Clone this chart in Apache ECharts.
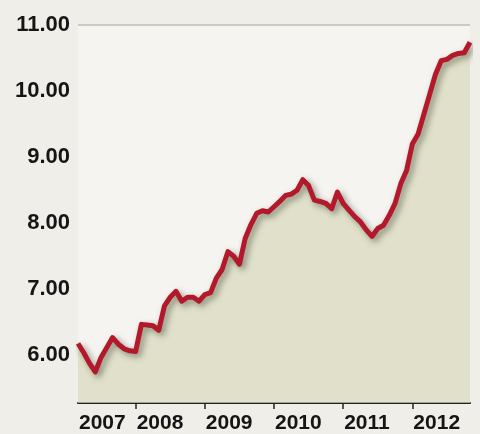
<!DOCTYPE html>
<html>
<head>
<meta charset="utf-8">
<script src="https://cdn.jsdelivr.net/npm/echarts@6/dist/echarts.min.js"></script>
<style>
html,body{margin:0;padding:0;background:#efeee9;}
#chart{width:480px;height:434px;}
</style>
</head>
<body>
<div id="chart"></div>
<script>
// Months from Mar 2007 to Nov 2012
const months = [];
(function(){
  let y = 2007, m = 3;
  while (y < 2012 || (y === 2012 && m <= 11)) {
    months.push(y + '-' + String(m).padStart(2,'0'));
    m++; if (m > 12) { m = 1; y++; }
  }
})();

const values = [
  6.18, 6.04, 5.88, 5.75, 5.97, 6.12, 6.27, 6.17, 6.10, 6.07,
  6.06, 6.47, 6.46, 6.45, 6.38, 6.75, 6.88, 6.97, 6.82, 6.88,
  6.88, 6.82, 6.92, 6.95, 7.17, 7.30, 7.57, 7.50, 7.38, 7.77,
  7.98, 8.15, 8.19, 8.17, 8.25, 8.33, 8.42, 8.44, 8.50, 8.66,
  8.57, 8.35, 8.33, 8.30, 8.22, 8.47, 8.30, 8.20, 8.10, 8.02,
  7.90, 7.80, 7.92, 7.97, 8.12, 8.30, 8.60, 8.80, 9.20, 9.35,
  9.65, 9.95, 10.25, 10.46, 10.48, 10.54, 10.57, 10.58, 10.74
];

const yTicks = [6, 7, 8, 9, 10, 11];
const yMin = 5.28, yMax = 11;

const chart = echarts.init(document.getElementById('chart'), null, {renderer: 'canvas'});

const isLabelIdx = (i) => i === 0 || months[i].endsWith('-01');
const isTickIdx = (i) => months[i].endsWith('-01');

chart.setOption({
  backgroundColor: '#efeee9',
  animation: false,
  grid: {
    left: 78, right: 10, top: 25, bottom: 28,
    show: true, backgroundColor: '#f5f4f0', borderWidth: 0
  },
  xAxis: {
    type: 'category',
    data: months,
    boundaryGap: false,
    axisLine: { lineStyle: { color: '#222', width: 2 } },
    axisTick: {
      show: true, inside: false, length: 6,
      interval: (i) => isTickIdx(i),
      lineStyle: { color: '#222', width: 1.5 }
    },
    axisLabel: {
      interval: (i) => isLabelIdx(i),
      formatter: (v) => v.slice(0, 4),
      align: 'left',
      margin: 10,
      padding: [0, 0, 0, 1],
      fontFamily: 'Liberation Sans',
      fontWeight: 'bold',
      fontSize: 21,
      color: '#151515',
      showMinLabel: true
    },
    splitLine: { show: false }
  },
  yAxis: {
    type: 'value',
    min: yMin, max: yMax,
    axisLine: { show: false },
    axisTick: { show: false },
    splitLine: { show: false },
    axisLabel: {
      customValues: yTicks,
      formatter: (v) => v.toFixed(2),
      margin: 8,
      fontFamily: 'Liberation Sans',
      fontWeight: 'bold',
      fontSize: 22,
      color: '#151515'
    }
  },
  series: [{
    type: 'line',
    data: values,
    symbol: 'none',
    smooth: false,
    lineStyle: {
      color: '#b3192b', width: 5,
      shadowColor: 'rgba(40,50,30,0.5)', shadowBlur: 6,
      shadowOffsetX: 3, shadowOffsetY: 3,
      join: 'round'
    },
    areaStyle: {
      origin: 'start',
      color: '#d8d9ba'
    },
    markLine: {
      silent: true,
      symbol: 'none',
      label: { show: false },
      lineStyle: { color: '#cacac6', width: 2, type: 'solid' },
      data: [{ yAxis: yMax }]
    },
    z: 3
  }]
});
</script>
</body>
</html>
